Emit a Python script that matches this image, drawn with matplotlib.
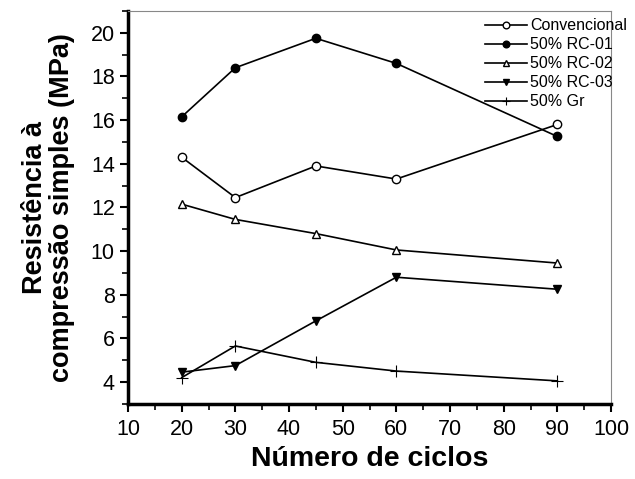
import matplotlib
matplotlib.use("Agg")
import matplotlib.pyplot as plt
from matplotlib.ticker import MultipleLocator

plt.rcParams['font.family'] = ['Liberation Sans', 'DejaVu Sans']

ciclos = [20, 30, 45, 60, 90]
convencional = [14.3, 12.45, 13.9, 13.3, 15.8]
rc01 = [16.15, 18.4, 19.75, 18.6, 15.25]
rc02 = [12.15, 11.45, 10.8, 10.05, 9.45]
rc03 = [4.45, 4.75, 6.8, 8.8, 8.25]
gr = [4.2, 5.65, 4.9, 4.5, 4.05]

fig = plt.figure(figsize=(6.35, 4.79), dpi=100)
ax = fig.add_axes([0.2016, 0.157, 0.7606, 0.820])

kw = dict(color='black', lw=1.2, ms=6)
ax.plot(ciclos, convencional, marker='o', mfc='white', mec='black', label='Convencional', **kw)
ax.plot(ciclos, rc01, marker='o', mfc='black', label='50% RC-01', **kw)
ax.plot(ciclos, rc02, marker='^', mfc='white', mec='black', label='50% RC-02', **kw)
ax.plot(ciclos, rc03, marker='v', mfc='black', label='50% RC-03', **kw)
ax.plot(ciclos, gr, marker='+', mec='black', mew=0.8, color='black', lw=1.2, ms=8, label='50% Gr')

ax.set_xlim(10, 100)
ax.set_ylim(3, 21)
ax.xaxis.set_major_locator(MultipleLocator(10))
ax.xaxis.set_minor_locator(MultipleLocator(5))
ax.yaxis.set_minor_locator(MultipleLocator(1))
ax.set_yticks([4, 6, 8, 10, 12, 14, 16, 18, 20])

for s in ['left', 'bottom']:
    ax.spines[s].set_linewidth(2.5)
for s in ['top', 'right']:
    ax.spines[s].set_linewidth(0.8)
    ax.spines[s].set_color('#888888')

ax.tick_params(which='major', direction='out', length=6, width=1.5, labelsize=15.5)
ax.tick_params(axis='x', which='major', pad=5)
ax.tick_params(which='minor', direction='out', length=4, width=1.2)

ax.set_xlabel('Número de ciclos', fontsize=20.5, fontweight='bold', labelpad=4)
ax.set_ylabel('Resistência à\ncompressão simples (MPa)', fontsize=19.5, fontweight='bold',
              labelpad=11, linespacing=1.05)

leg = ax.legend(loc='upper right', frameon=False, fontsize=11.5, handlelength=2.6,
                handletextpad=0.2, labelspacing=0.25, markerscale=0.8,
                bbox_to_anchor=(0.997, 0.975), bbox_transform=fig.transFigure, borderaxespad=0)

fig.savefig('out.png', dpi=100)
